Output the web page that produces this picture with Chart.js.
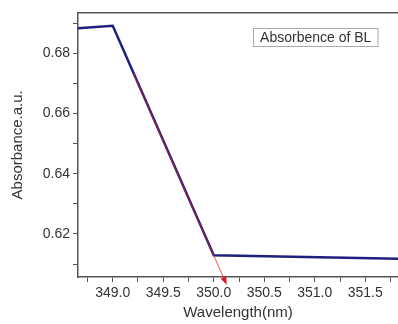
<!DOCTYPE html>
<html>
<head>
<meta charset="utf-8">
<script src="https://cdn.jsdelivr.net/npm/chart.js@4/dist/chart.umd.min.js"></script>
<style>
  body { margin: 0; background: #fff; }
  #chart { display: block; }
</style>
</head>
<body>
<canvas id="chart" width="398" height="324"></canvas>
<script>
// absorbance curve
var wavelength = [348.5, 349.0, 350.0, 352.0];
var absorbance = [0.6879, 0.6891, 0.6129, 0.61165];

// red tangent (extrapolated edge)
var tangentX = [349.2, 350.12];
var tangentY = [0.6735, 0.6037];

var legendText = "Absorbence of BL";
var xTitle = "Wavelength(nm)";
var yTitle = "Absorbance.a.u.";

var axisColor = "#555";
var textColor = "#333";
var fontFamily = "'Liberation Sans', Arial, sans-serif";

function toPoints(xs, ys) {
  return xs.map(function (x, i) { return { x: x, y: ys[i] }; });
}

function isMajor(v, step) {
  var r = v / step;
  return Math.abs(r - Math.round(r)) < 1e-6;
}

var framePlugin = {
  id: "frame",
  afterDraw: function (chart) {
    var ctx = chart.ctx;
    var a = chart.chartArea;
    ctx.save();
    // top frame line
    ctx.strokeStyle = axisColor;
    ctx.lineWidth = 1.5;
    ctx.beginPath();
    ctx.moveTo(a.left, a.top);
    ctx.lineTo(a.right, a.top);
    ctx.stroke();
    // arrow head at the end of the tangent line
    var pts = chart.getDatasetMeta(1).data;
    var p0 = pts[0], p1 = pts[pts.length - 1];
    var ang = Math.atan2(p1.y - p0.y, p1.x - p0.x);
    ctx.fillStyle = "rgb(230, 20, 20)";
    ctx.translate(p1.x, p1.y);
    ctx.rotate(ang);
    ctx.beginPath();
    ctx.moveTo(2, 0);
    ctx.lineTo(-6, -3);
    ctx.lineTo(-6, 3);
    ctx.closePath();
    ctx.fill();
    ctx.setTransform(1, 0, 0, 1, 0, 0);
    // legend box
    ctx.font = "14px " + fontFamily;
    var bx = 253.5, by = 28.5, bw = 124.5, bh = 18;
    ctx.strokeStyle = "#aaa";
    ctx.lineWidth = 1;
    ctx.strokeRect(bx, by, bw, bh);
    ctx.fillStyle = textColor;
    ctx.textAlign = "center";
    ctx.textBaseline = "middle";
    ctx.fillText(legendText, bx + bw / 2, by + bh / 2 + 0.5);
    ctx.restore();
  }
};

new Chart(document.getElementById("chart"), {
  type: "line",
  data: {
    datasets: [
      {
        data: toPoints(wavelength, absorbance),
        borderColor: "#1f1f80",
        borderWidth: 2.5,
        pointRadius: 0,
        tension: 0,
        order: 1
      },
      {
        data: toPoints(tangentX, tangentY),
        borderColor: "rgba(230, 30, 30, 0.6)",
        borderWidth: 1.2,
        pointRadius: 0,
        clip: false,
        tension: 0,
        order: 0
      }
    ]
  },
  options: {
    responsive: false,
    animation: false,
    layout: { padding: { top: 12.7, left: 0, right: 0, bottom: 0 } },
    plugins: {
      legend: { display: false },
      tooltip: { enabled: false }
    },
    scales: {
      x: {
        type: "linear",
        min: 348.656,
        max: 351.824,
        afterFit: function (scale) { scale.height = 47; },
        border: { display: true, color: axisColor, width: 1.5 },
        grid: { drawOnChartArea: false, drawTicks: true, tickLength: 5, color: axisColor, lineWidth: 1 },
        ticks: {
          stepSize: 0.25,
          includeBounds: false,
          maxRotation: 0,
          autoSkip: false,
          padding: 3,
          color: textColor,
          font: { size: 14, family: fontFamily },
          callback: function (v) { return isMajor(v, 0.5) ? v.toFixed(1) : ""; }
        },
        title: {
          display: true,
          text: xTitle,
          color: textColor,
          font: { size: 15, family: fontFamily },
          padding: { top: 0, bottom: 2 }
        }
      },
      y: {
        min: 0.6057,
        max: 0.69347,
        afterFit: function (scale) { scale.width = 78; },
        border: { display: true, color: axisColor, width: 1.5 },
        grid: { drawOnChartArea: false, drawTicks: true, tickLength: 5, color: axisColor, lineWidth: 1 },
        ticks: {
          stepSize: 0.01,
          includeBounds: false,
          autoSkip: false,
          padding: 3,
          color: textColor,
          font: { size: 14, family: fontFamily },
          callback: function (v) { return isMajor(v, 0.02) ? v.toFixed(2) : ""; }
        },
        title: {
          display: true,
          text: yTitle,
          color: textColor,
          font: { size: 15, family: fontFamily },
          padding: { top: 9, bottom: 0 }
        }
      }
    }
  },
  plugins: [framePlugin]
});
</script>
</body>
</html>
